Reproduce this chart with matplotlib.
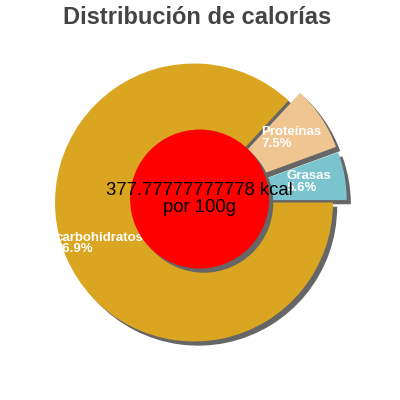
import matplotlib.pyplot as plt
from matplotlib.patches import Wedge, Circle
import numpy as np

# Datos
etiquetas = ["carbohidratos", "Proteínas", "Grasas"]
porcentajes = [86.9, 7.5, 5.6]
colores = ["#DAA520", "#EFC592", "#7AC5CD"]
separacion = [0, 0.1, 0.1]
kcal = 377.77777777778
titulo = "Distribución de calorías"

plt.rcParams['font.family'] = ['Liberation Sans', 'DejaVu Sans']

fig = plt.figure(figsize=(4, 4), dpi=100)
ax = fig.add_axes([0, 0, 1, 1])

wedges, _ = ax.pie(porcentajes, colors=colores, explode=separacion,
                   startangle=0, counterclock=False,
                   wedgeprops=dict(linewidth=0, zorder=2))

# sombras grises desplazadas
dx, dy = 0.03, -0.03
for w in wedges:
    cx, cy = w.center
    ax.add_patch(Wedge((cx + dx, cy + dy), w.r, w.theta1, w.theta2,
                       color="#666666", zorder=1, linewidth=0))

# etiquetas
for w, lab, pct in zip(wedges, etiquetas, porcentajes):
    ang = np.deg2rad((w.theta1 + w.theta2) / 2)
    cx, cy = w.center
    x = cx + 0.74 * np.cos(ang)
    y = cy + 0.74 * np.sin(ang)
    ax.text(x, y, f"{lab}\n{pct}%", ha='center', va='center', ma='left',
            color='white', fontsize=9.5, fontweight='bold', linespacing=0.95,
            zorder=5)

# circulo central
centro = (0.04, 0.025)
ax.add_patch(Circle((centro[0] + dx, centro[1] + dy), 0.5, color="#666666",
                    zorder=6, linewidth=0))
ax.add_patch(Circle(centro, 0.5, color="red", zorder=7, linewidth=0))
ax.text(centro[0], centro[1], f"{kcal} kcal\npor 100g", ha='center',
        va='center', fontsize=13.3, color='black', linespacing=1.0, zorder=8)

ax.set_xlim(-1.396, 1.482)
ax.set_ylim(-1.421, 1.457)
ax.set_aspect('auto')
ax.axis('off')

fig.text(0.494, 0.955, titulo, ha='center', va='center', fontsize=17,
         fontweight='bold', color='#444444')

plt.savefig('out.png', dpi=100)
